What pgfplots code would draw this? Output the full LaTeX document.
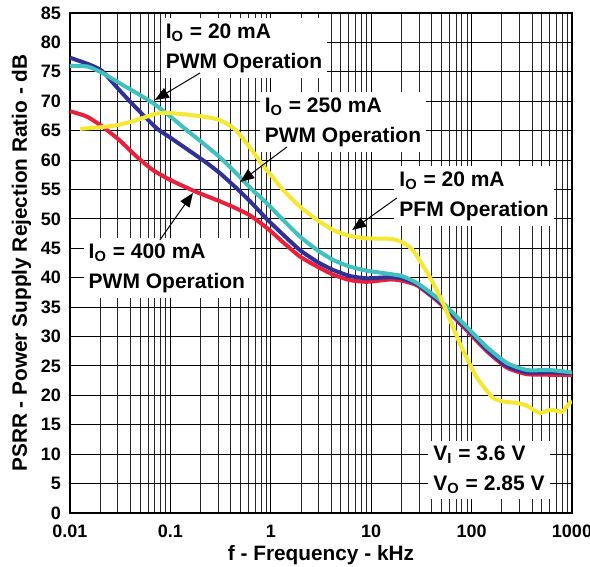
\documentclass[border=0pt]{standalone}
\usepackage{fontspec}
\setmainfont{Liberation Sans}
\usepackage{pgfplots}
\pgfplotsset{compat=1.18}
\usetikzlibrary{arrows.meta}
\definecolor{cteal}{RGB}{64,192,190}
\definecolor{cnavy}{RGB}{48,48,150}
\definecolor{cred}{RGB}{232,32,58}
\definecolor{cyellow}{RGB}{246,232,48}
\begin{document}
\begin{tikzpicture}
\useasboundingbox (-35pt,-27pt) rectangle (260pt,256.5pt);
\begin{axis}[
  at={(0,0)}, anchor=south west,
  width=251pt, height=250pt, scale only axis,
  xmode=log, xmin=0.01, xmax=1000, ymin=0, ymax=85,
  ytick={0,5,...,85},
  xtick={0.01,0.1,1,10,100,1000},
  xticklabels={0.01,0.1,1,10,100,1000},
  grid=both,
  major grid style={black, line width=0.5pt},
  minor grid style={black!85, line width=0.5pt},
  axis line style={line width=1.1pt},
  major tick length=0pt, minor tick length=0pt,
  /pgf/number format/assume math mode=true,
  ticklabel style={font=\fontsize{9}{11}\selectfont\bfseries},
  xticklabel style={yshift=-2.5pt},
  yticklabel style={xshift=-1pt},
  xlabel={f - Frequency - kHz},
  ylabel={PSRR - Power Supply Rejection Ratio - dB},
  label style={font=\fontsize{10.4}{12}\selectfont\bfseries},
  xlabel style={yshift=3pt},
  ylabel style={yshift=-2pt},
  every axis plot/.append style={line width=2pt, smooth, tension=0.35},
]
% 400 mA PWM (red)
\addplot[cred] coordinates {
(0.01,68.3) (0.0147,67.4) (0.021,65.7) (0.031,63.4) (0.046,60.6) (0.067,58.3)
(0.1,56.6) (0.18,54.6) (0.31,53.0) (0.45,51.8) (0.62,50.6) (0.91,48.5)
(1.33,46.0) (1.95,43.6) (2.9,41.9) (4.2,40.5) (6.1,39.6) (9,39.3) (15.5,39.7)
(20,39.5) (28.6,38.7) (48,35.7) (90,31.0) (142,27.5) (225,24.7) (356,23.6)
(600,23.5) (1000,23.5)};
% 250 mA PWM (navy)
\addplot[cnavy] coordinates {
(0.01,77.4) (0.0158,76.2) (0.021,75.1) (0.031,71.9) (0.046,68.8) (0.073,65.4)
(0.1,63.8) (0.21,60.0) (0.31,57.8) (0.45,55.3) (0.62,53.0) (0.91,50.0)
(1.33,47.3) (1.95,44.7) (2.9,42.7) (4.2,41.3) (6.1,40.3) (9,39.9) (15.5,40.1)
(20,39.9) (28.6,38.9) (48,35.9) (90,31.3) (142,27.8) (225,25.0) (356,23.9)
(600,23.9) (1000,23.8)};
% 20 mA PWM (teal)
\addplot[cteal] coordinates {
(0.01,76.0) (0.015,75.9) (0.021,74.8) (0.031,73.1) (0.046,71.4) (0.067,69.7)
(0.1,67.4) (0.145,65.1) (0.21,62.9) (0.31,60.5) (0.45,57.8) (0.66,54.9)
(0.91,52.7) (1.33,49.8) (1.95,47.0) (2.9,44.7) (4.2,43.0) (6.1,41.9) (9,41.2)
(13,40.8) (20,40.3) (28.6,39.1) (48.4,36.2) (90,31.6) (142,28.2) (225,25.5)
(356,24.3) (603,24.3) (1000,23.9)};
% 20 mA PFM (yellow)
\addplot[cyellow] coordinates {
(0.0126,65.3) (0.021,65.6) (0.031,66.0) (0.046,66.8) (0.073,67.9) (0.1,68.0)
(0.21,67.4) (0.31,66.8) (0.45,65.1) (0.66,61.5) (0.84,59.0) (1.0,57.5)
(1.33,54.9) (1.95,52.1) (2.9,49.8) (4.2,48.1) (6.1,47.1) (9,46.7) (15.5,46.6)
(20,46.1) (26,44.7) (38.4,40.1) (51.9,35.7) (76,28.9) (112,23.1) (161,19.7)
(200,19.0) (280,18.7) (350,18.3) (474,17.0) (600,17.5) (700,17.4) (800,17.2)
(950,18.7) (1000,19.0)};

\tikzset{lbl/.style={fill=white, inner sep=2.5pt, align=left,
  font=\fontsize{10.5}{15}\selectfont\bfseries},
  arr/.style={line width=0.5pt, -{Triangle[length=7pt,width=5.5pt]}}}
\node[lbl] at (rel axis cs:0.3466,0.93) {I\textsubscript{O} = 20 mA\\PWM Operation};
\node[lbl] at (rel axis cs:0.5438,0.782) {I\textsubscript{O} = 250 mA\\PWM Operation};
\node[lbl] at (rel axis cs:0.805,0.634) {I\textsubscript{O} = 20 mA\\PFM Operation};
\node[lbl] at (rel axis cs:0.193,0.49) {I\textsubscript{O} = 400 mA\\PWM Operation};
\node[lbl] at (rel axis cs:0.8347,0.086) {V\textsubscript{I} = 3.6 V\\V\textsubscript{O} = 2.85 V};
\draw[arr] (rel axis cs:0.259,0.88) -- (rel axis cs:0.169,0.826);
\draw[arr] (rel axis cs:0.432,0.732) -- (rel axis cs:0.339,0.662);
\draw[arr] (rel axis cs:0.651,0.63) -- (rel axis cs:0.562,0.566);
\draw[arr] (rel axis cs:0.179,0.546) -- (rel axis cs:0.245,0.64);
\end{axis}
\end{tikzpicture}
\end{document}
